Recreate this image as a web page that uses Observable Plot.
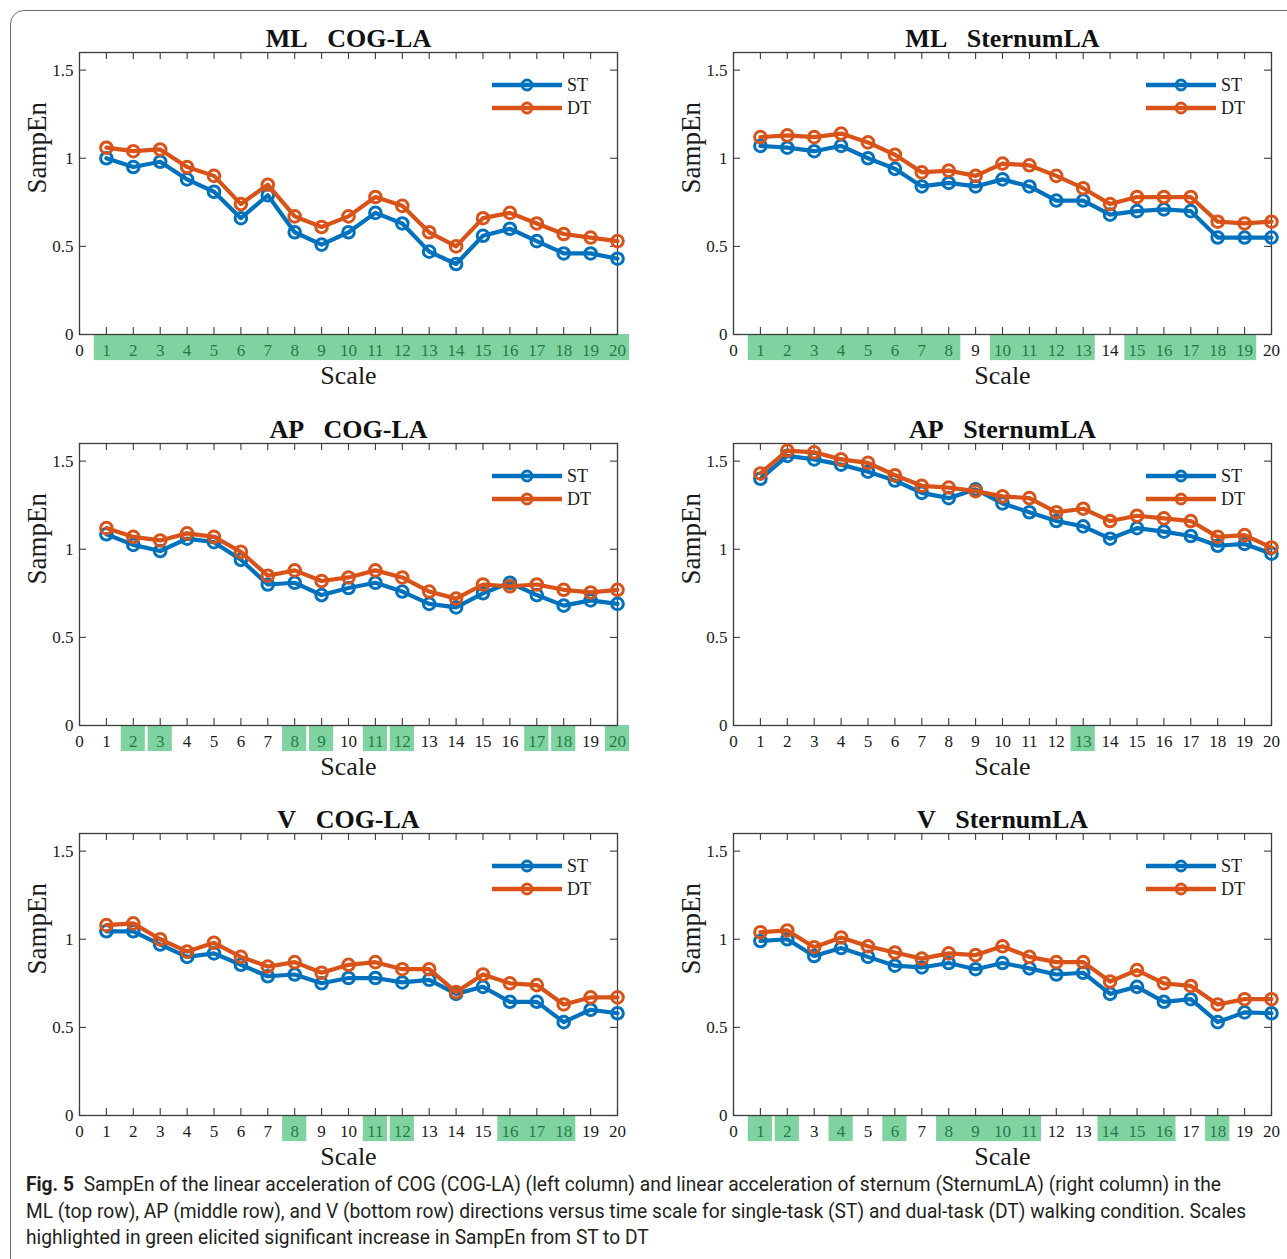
<!DOCTYPE html>
<html>
<head>
<meta charset="utf-8">
<script src="https://cdn.jsdelivr.net/npm/d3@7"></script>
<script src="https://cdn.jsdelivr.net/npm/@observablehq/plot@0.6"></script>
<style>
  html, body { margin: 0; padding: 0; background: #fff; width: 1287px; height: 1259px; overflow: hidden; }
  #page { position: relative; width: 1287px; height: 1259px; }
  #border { position: absolute; left: 10px; top: 10px; width: 1300px; height: 1300px; border: 1.3px solid #6a6a6a; border-radius: 14px; box-sizing: border-box; }
  .panel { position: absolute; width: 633px; height: 390px; }
  .panel svg { font-family: 'Liberation Serif', 'Times New Roman', serif; }
  .panel svg text { font-family: 'Liberation Serif', 'Times New Roman', serif; }
  .panel svg.legend { position: absolute; left: 0; top: 0; pointer-events: none; }
  #caption { position: absolute; left: 26px; top: 1171px; font-family: "Roboto", "Noto Sans", sans-serif; font-size: 20px; line-height: 26.5px; color: #231f20; white-space: nowrap; }
  #caption .line { display: block; transform-origin: left center; }
  #caption b { font-weight: 700; }
</style>
</head>
<body>
<div id="page">
  <div id="border"></div>
  <div id="caption"></div>
</div>
<script>
// ---------------- data ----------------
const scales = [1,2,3,4,5,6,7,8,9,10,11,12,13,14,15,16,17,18,19,20];
const xTicks = [0,1,2,3,4,5,6,7,8,9,10,11,12,13,14,15,16,17,18,19,20];
const yTicks = [0, 0.5, 1, 1.5];
const seriesNames = ["ST", "DT"];

const mlCogST = [1.00,0.95,0.98,0.88,0.81,0.66,0.79,0.58,0.51,0.58,0.69,0.63,0.47,0.40,0.56,0.60,0.53,0.46,0.46,0.43];
const mlCogDT = [1.06,1.04,1.05,0.95,0.90,0.74,0.85,0.67,0.61,0.67,0.78,0.73,0.58,0.50,0.66,0.69,0.63,0.57,0.55,0.53];
const mlSterST = [1.07,1.06,1.04,1.07,1.00,0.94,0.84,0.86,0.84,0.88,0.84,0.76,0.76,0.68,0.70,0.71,0.70,0.55,0.55,0.55];
const mlSterDT = [1.12,1.13,1.12,1.14,1.09,1.02,0.92,0.93,0.90,0.97,0.96,0.90,0.83,0.74,0.78,0.78,0.78,0.64,0.63,0.64];
const apCogST = [1.085,1.025,0.99,1.06,1.04,0.94,0.80,0.81,0.74,0.78,0.81,0.76,0.69,0.67,0.75,0.81,0.74,0.68,0.71,0.69];
const apCogDT = [1.12,1.07,1.05,1.09,1.07,0.985,0.85,0.88,0.82,0.84,0.88,0.84,0.76,0.72,0.80,0.79,0.80,0.77,0.755,0.77];
const apSterST = [1.40,1.53,1.51,1.48,1.44,1.39,1.32,1.29,1.34,1.26,1.21,1.16,1.13,1.06,1.12,1.10,1.075,1.02,1.03,0.975];
const apSterDT = [1.43,1.56,1.55,1.51,1.49,1.42,1.36,1.35,1.33,1.30,1.29,1.21,1.23,1.16,1.19,1.175,1.16,1.07,1.08,1.01];
const vCogST = [1.045,1.045,0.97,0.90,0.92,0.855,0.79,0.80,0.75,0.78,0.78,0.755,0.77,0.69,0.73,0.645,0.645,0.53,0.60,0.58];
const vCogDT = [1.08,1.09,1.00,0.93,0.98,0.90,0.845,0.87,0.81,0.855,0.87,0.83,0.83,0.70,0.80,0.75,0.74,0.63,0.67,0.67];
const vSterST = [0.99,1.00,0.905,0.95,0.90,0.85,0.84,0.865,0.83,0.865,0.835,0.80,0.81,0.69,0.73,0.645,0.66,0.53,0.585,0.58];
const vSterDT = [1.04,1.05,0.955,1.01,0.96,0.925,0.89,0.92,0.91,0.96,0.90,0.87,0.87,0.76,0.825,0.75,0.735,0.63,0.66,0.66];

// significant scales (ranges of scales highlighted in green)
const mlCogSig = [[1,20]];
const mlSterSig = [[1,8],[10,13],[15,19]];
const apCogSig = [[2,2],[3,3],[8,8],[9,9],[11,11],[12,12],[17,17],[18,18],[20,20]];
const apSterSig = [[13,13]];
const vCogSig = [[8,8],[11,11],[12,12],[16,18]];
const vSterSig = [[1,1],[2,2],[4,4],[6,6],[8,11],[14,16],[18,18]];

const titles = ["ML\u00a0\u00a0\u00a0COG-LA","ML\u00a0\u00a0\u00a0SternumLA",
                "AP\u00a0\u00a0\u00a0COG-LA","AP\u00a0\u00a0\u00a0SternumLA",
                "V\u00a0\u00a0\u00a0COG-LA","V\u00a0\u00a0\u00a0SternumLA"];

const captionLines = [
  ["Fig. 5", "\u2002SampEn of the linear acceleration of COG (COG-LA) (left column) and linear acceleration of sternum (SternumLA) (right column) in the"],
  [null, "ML (top row), AP (middle row), and V (bottom row) directions versus time scale for single-task (ST) and dual-task (DT) walking condition. Scales"],
  [null, "highlighted in green elicited significant increase in SampEn from ST to DT"]
];

// ---------------- drawing ----------------
const colors = {ST: "#0072BD", DT: "#D95319"};
const W = 633, H = 390, ML = 79, MR = 16, MT = 52, MB = 56;
const plotW = W - ML - MR, plotH = H - MT - MB;
const axisColor = "#3c3c3c";
const serif = "'Liberation Serif', 'Times New Roman', serif";

function panel(title, st, dt, sig) {
  const stData = st.map((v, i) => ({scale: scales[i], value: v}));
  const dtData = dt.map((v, i) => ({scale: scales[i], value: v}));
  const tick = 7;
  return Plot.plot({
    width: W, height: H,
    marginLeft: ML, marginRight: MR, marginTop: MT, marginBottom: MB,
    style: {fontFamily: serif, fontSize: "17px", color: "#1a1a1a", background: "transparent", overflow: "visible"},
    x: {domain: [0, 20]},
    y: {domain: [0, 1.6]},
    marks: [
      Plot.axisX({ticks: xTicks, tickSize: 0, tickPadding: 9, tickFormat: d => String(d), label: null, fontSize: 17, fontFamily: serif, fill: "#1a1a1a"}),
      Plot.axisY({ticks: yTicks, tickSize: 0, tickPadding: 6, tickFormat: d => String(d), label: null, fontSize: 17, fontFamily: serif, fill: "#1a1a1a"}),
      Plot.rect(sig, {x1: d => d[0] - 0.45, x2: d => d[1] + 0.45, y1: 0, y2: -0.148, fill: "#2ab661", fillOpacity: 0.6}),
      Plot.tickX(xTicks, {x: d => d, insetTop: plotH - tick, stroke: axisColor, strokeWidth: 1.1}),
      Plot.tickX(xTicks, {x: d => d, insetBottom: plotH - tick, stroke: axisColor, strokeWidth: 1.1}),
      Plot.tickY(yTicks, {y: d => d, insetRight: plotW - tick, stroke: axisColor, strokeWidth: 1.1}),
      Plot.tickY(yTicks, {y: d => d, insetLeft: plotW - tick, stroke: axisColor, strokeWidth: 1.1}),
      Plot.frame({stroke: axisColor, strokeWidth: 1.3}),
      Plot.line(stData, {x: "scale", y: "value", stroke: colors.ST, strokeWidth: 4.2, strokeLinejoin: "round"}),
      Plot.dot(stData, {x: "scale", y: "value", stroke: colors.ST, r: 5.8, strokeWidth: 3, fill: "none"}),
      Plot.line(dtData, {x: "scale", y: "value", stroke: colors.DT, strokeWidth: 4.2, strokeLinejoin: "round"}),
      Plot.dot(dtData, {x: "scale", y: "value", stroke: colors.DT, r: 5.8, strokeWidth: 3, fill: "none"}),
      Plot.text([title], {text: d => d, frameAnchor: "top", dy: -14, lineAnchor: "middle", fontSize: 26, fontWeight: "bold", fontFamily: serif, fill: "#111"}),
      Plot.text(["SampEn"], {text: d => d, frameAnchor: "left", rotate: -90, dx: -42, lineAnchor: "middle", fontSize: 27, fontFamily: serif, fill: "#1a1a1a"}),
      Plot.text(["Scale"], {text: d => d, frameAnchor: "bottom", dy: 41, lineAnchor: "middle", fontSize: 26, fontFamily: serif, fill: "#1a1a1a"})
    ]
  });
}

function legend() {
  const svg = d3.create("svg").attr("class", "legend").attr("width", W).attr("height", 130);
  seriesNames.forEach((name, i) => {
    const y = 85 + i * 23;
    const g = svg.append("g");
    g.append("line").attr("x1", 492).attr("x2", 562).attr("y1", y).attr("y2", y)
      .attr("stroke", colors[name]).attr("stroke-width", 4.5);
    g.append("circle").attr("cx", 527).attr("cy", y).attr("r", 5)
      .attr("fill", "none").attr("stroke", colors[name]).attr("stroke-width", 2.8);
    g.append("text").attr("x", 567).attr("y", y).attr("dy", "0.35em")
      .attr("font-family", serif).attr("font-size", 18).attr("fill", "#1a1a1a").text(name);
  });
  return svg.node();
}

const panels = [
  [mlCogST, mlCogDT, mlCogSig], [mlSterST, mlSterDT, mlSterSig],
  [apCogST, apCogDT, apCogSig], [apSterST, apSterDT, apSterSig],
  [vCogST, vCogDT, vCogSig], [vSterST, vSterDT, vSterSig]
];
const rowTops = [0, 391, 781];
const colLefts = [0, 654];
const page = document.getElementById("page");
panels.forEach(([st, dt, sig], k) => {
  const div = document.createElement("div");
  div.className = "panel";
  div.style.left = colLefts[k % 2] + "px";
  div.style.top = rowTops[Math.floor(k / 2)] + "px";
  div.appendChild(panel(titles[k], st, dt, sig));
  div.appendChild(legend());
  page.appendChild(div);
});

const cap = document.getElementById("caption");
const spans = captionLines.map(([bold, rest]) => {
  const span = document.createElement("span");
  span.className = "line";
  span.style.display = "inline-block";
  if (bold) { const b = document.createElement("b"); b.textContent = bold; span.appendChild(b); }
  span.appendChild(document.createTextNode(rest));
  cap.appendChild(span);
  cap.appendChild(document.createElement("br"));
  return span;
});
// fit the first caption line to the reference width (condensed face)
const w0 = spans[0].getBoundingClientRect().width;
const sx = 1195 / w0;
spans.forEach(s => { s.style.transform = `scaleX(${sx})`; });
</script>
</body>
</html>
